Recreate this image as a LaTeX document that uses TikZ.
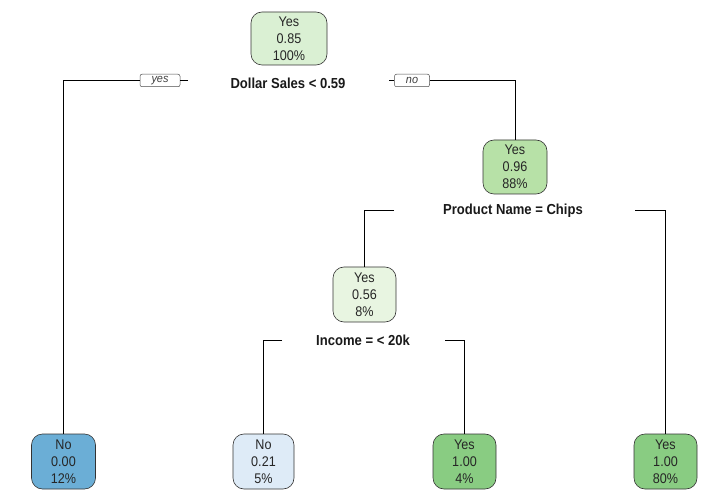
\documentclass[tikz,border=0pt]{standalone}
\usepackage{fontspec}
\setmainfont{Liberation Sans}
\newfontfamily\nodefont[FakeStretch=0.9]{Liberation Sans}
\newfontfamily\splitfont[FakeStretch=0.9]{Liberation Sans Bold}
\newfontfamily\ynfont[FakeStretch=0.95]{Liberation Sans Italic}
\begin{document}
\begin{tikzpicture}[x=1bp,y=-1bp,
  tnode/.style={draw=black!80, line width=0.6bp, rounded corners=11bp, align=center,
    minimum width=63bp, minimum height=55bp, inner sep=0pt,
    font=\nodefont\fontsize{14bp}{17bp}\selectfont, text=black!85},
  split/.style={font=\splitfont\fontsize{14.5bp}{15bp}\selectfont, inner sep=0pt, text=black!90},
  yn/.style={draw=black!70, line width=0.5bp, rounded corners=2bp, inner sep=0pt,
    minimum width=40bp, minimum height=12.5bp, font=\ynfont\fontsize{11.5bp}{12bp}\selectfont, text=black!75},
  edge/.style={draw=black, line width=0.6bp}]
\useasboundingbox (0,0) rectangle (706,502);
\definecolor{cRoot}{RGB}{218,240,211}
\definecolor{cTwo}{RGB}{183,225,167}
\definecolor{cThree}{RGB}{232,245,225}
\definecolor{cBlue}{RGB}{107,174,214}
\definecolor{cLBlue}{RGB}{222,235,247}
\definecolor{cGreen}{RGB}{137,204,130}

\node[tnode, fill=cRoot, minimum width=76bp, minimum height=53bp] (root) at (289,38.5) {Yes\\0.85\\100\%};
\node[split] (s1) at (288,83) {Dollar Sales < 0.59};
\node[yn] (yes) at (160,80.5) {yes};
\node[yn, minimum width=35bp] (no) at (412,80.5) {no};

\node[tnode, fill=cTwo, minimum width=64bp, minimum height=54bp] (n2) at (515,167) {Yes\\0.96\\88\%};
\node[split] (s2) at (513,211) {Product Name = Chips};

\node[tnode, fill=cThree] (n3) at (364.5,294.5) {Yes\\0.56\\8\%};
\node[split] (s3) at (363,340.5) {Income = < 20k};

\node[tnode, fill=cBlue, minimum width=64bp] (l1) at (63.5,461.5) {No\\0.00\\12\%};
\node[tnode, fill=cLBlue, minimum width=61bp] (l2) at (263.5,461.5) {No\\0.21\\5\%};
\node[tnode, fill=cGreen] (l3) at (464.5,461.5) {Yes\\1.00\\4\%};
\node[tnode, fill=cGreen] (l4) at (665.5,461.5) {Yes\\1.00\\80\%};

\coordinate (a1) at (188,80.5);
\coordinate (a2) at (389,80.5);
\coordinate (b1) at (394,210.5);
\coordinate (b2) at (635,210.5);
\coordinate (c1) at (282,340);
\coordinate (c2) at (445,340);

\draw[edge] (a1) -- (yes.east);
\draw[edge] (yes.west) -| (l1.north);
\draw[edge] (a2) -- (no.west);
\draw[edge] (no.east) -| (n2.north);
\draw[edge] (b1) -| (n3.north);
\draw[edge] (b2) -| (l4.north);
\draw[edge] (c1) -| (l2.north);
\draw[edge] (c2) -| (l3.north);
\end{tikzpicture}
\end{document}
